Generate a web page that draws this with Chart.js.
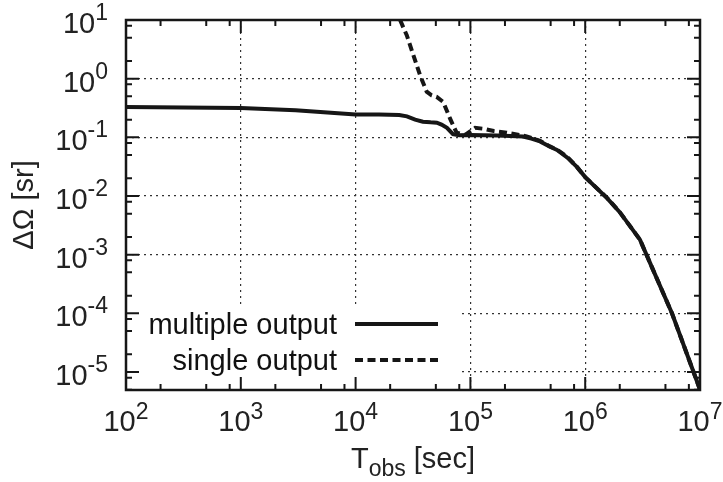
<!DOCTYPE html>
<html>
<head>
<meta charset="utf-8">
<script src="https://cdn.jsdelivr.net/npm/chart.js@4.4.1/dist/chart.umd.min.js"></script>
<style>
  html, body { margin: 0; padding: 0; background: #fff; }
  #wrap { width: 723px; height: 482px; position: relative; }
</style>
</head>
<body>
<div id="wrap"><canvas id="c" width="723" height="482"></canvas></div>
<script>
// ---- data ----
const multipleX = [100, 1000, 3000, 10000, 16000, 24000, 28000, 33000, 38600, 45000, 51000, 56000, 62500, 70500, 80000, 100000, 171000, 287000, 340000, 404000, 493000, 568000, 700000, 850000, 1000000, 1550000, 2000000, 3000000, 3800000, 5700000, 10000000];
const multipleY = [0.33, 0.315, 0.29, 0.245, 0.245, 0.24, 0.228, 0.2, 0.185, 0.18, 0.178, 0.165, 0.145, 0.113, 0.108, 0.11, 0.107, 0.103, 0.095, 0.085, 0.069, 0.061, 0.045, 0.031, 0.021, 0.0092, 0.0053, 0.0018, 0.00062, 0.0001, 0.000005];

const singleX = [24400, 27900, 31900, 36400, 41600, 46000, 50800, 58000, 66400, 75800, 90000, 110000, 130000, 160000, 207000, 309000, 404000, 493000, 568000, 700000, 850000, 1000000, 1550000, 2000000, 3000000, 3800000, 5700000, 10000000];
const singleY = [10, 5.5, 2.5, 1.15, 0.6, 0.52, 0.49, 0.4, 0.21, 0.12, 0.11, 0.145, 0.14, 0.128, 0.12, 0.104, 0.087, 0.07, 0.062, 0.046, 0.031, 0.021, 0.0093, 0.0053, 0.0018, 0.00062, 0.0001, 0.000005];

const seriesNames = ['multiple output', 'single output'];

const xTickValues = [1e2, 1e3, 1e4, 1e5, 1e6, 1e7];
const xTickExponents = ['2', '3', '4', '5', '6', '7'];
const yTickValues = [1e1, 1e0, 1e-1, 1e-2, 1e-3, 1e-4, 1e-5];
const yTickExponents = ['1', '0', '-1', '-2', '-3', '-4', '-5'];
const minorMultipliers = [2, 5, 8];

const xMin = 1e2, xMax = 1e7;
const yMin = 4.93e-6, yMax = 10;

const xTitleParts = ['T', 'obs', ' [sec]'];
const yTitle = 'ΔΩ [sr]';
// ------------------------------------------------

const FONT = "'Liberation Sans', Arial, Helvetica, sans-serif";
const INK = '#161616';

function toPoints(xs, ys) { return xs.map((x, i) => ({ x: x, y: ys[i] })); }

const decor = {
  id: 'decor',
  beforeDatasetsDraw(chart) {
    const ctx = chart.ctx, a = chart.chartArea;
    // opaque key box (hides grid underneath, as in the reference)
    ctx.save();
    ctx.fillStyle = '#fff';
    ctx.fillRect(a.left + 1, 304, 457 - a.left, a.bottom - 304);
    ctx.restore();
  },
  afterDraw(chart) {
    const ctx = chart.ctx, a = chart.chartArea;
    const xs = chart.scales.x, ys = chart.scales.y;
    ctx.save();
    // minor + major ticks, all four sides
    ctx.strokeStyle = INK;
    ctx.lineWidth = 2;
    ctx.beginPath();
    const majorLen = 13, minorLen = 6;
    for (let d = 1; d <= 7; d++) {
      for (const m of minorMultipliers) {
        const v = m * Math.pow(10, d);
        if (v <= xMin || v >= xMax) continue;
        const px = xs.getPixelForValue(v);
        ctx.moveTo(px, a.bottom); ctx.lineTo(px, a.bottom - minorLen);
        ctx.moveTo(px, a.top); ctx.lineTo(px, a.top + minorLen);
      }
    }
    for (const v of xTickValues) {
      const px = xs.getPixelForValue(v);
      ctx.moveTo(px, a.bottom); ctx.lineTo(px, a.bottom - majorLen);
      ctx.moveTo(px, a.top); ctx.lineTo(px, a.top + majorLen);
    }
    for (let d = -7; d <= 1; d++) {
      for (const m of minorMultipliers) {
        const v = m * Math.pow(10, d);
        if (v <= yMin || v >= yMax) continue;
        const py = ys.getPixelForValue(v);
        ctx.moveTo(a.left, py); ctx.lineTo(a.left + minorLen, py);
        ctx.moveTo(a.right, py); ctx.lineTo(a.right - minorLen, py);
      }
    }
    for (const v of yTickValues) {
      const py = ys.getPixelForValue(v);
      ctx.moveTo(a.left, py); ctx.lineTo(a.left + majorLen, py);
      ctx.moveTo(a.right, py); ctx.lineTo(a.right - majorLen, py);
    }
    ctx.stroke();

    // frame
    ctx.lineWidth = 2.5;
    ctx.strokeRect(a.left, a.top, a.right - a.left, a.bottom - a.top);

    // tick labels with superscripts
    ctx.fillStyle = '#222';
    ctx.textBaseline = 'alphabetic';
    ctx.textAlign = 'left';
    const mainFont = '29px ' + FONT, supFont = '23px ' + FONT;
    function measure(exp) {
      ctx.font = mainFont; const w1 = ctx.measureText('10').width;
      ctx.font = supFont; const w2 = ctx.measureText(exp).width;
      return [w1, w2];
    }
    xTickValues.forEach((v, i) => {
      const px = xs.getPixelForValue(v);
      const [w1, w2] = measure(xTickExponents[i]);
      const x0 = px - (w1 + w2) / 2;
      const base = a.bottom + 41;
      ctx.font = mainFont; ctx.fillText('10', x0, base);
      ctx.font = supFont; ctx.fillText(xTickExponents[i], x0 + w1, base - 12.5);
    });
    yTickValues.forEach((v, i) => {
      const py = ys.getPixelForValue(v);
      const [w1, w2] = measure(yTickExponents[i]);
      const x0 = 108 - (w1 + w2);
      const base = py + 13;
      ctx.font = mainFont; ctx.fillText('10', x0, base);
      ctx.font = supFont; ctx.fillText(yTickExponents[i], x0 + w1, base - 13);
    });

    // axis titles
    ctx.font = mainFont;
    ctx.save();
    ctx.translate(33, (a.top + a.bottom) / 2);
    ctx.rotate(-Math.PI / 2);
    ctx.textAlign = 'center';
    ctx.fillText(yTitle, 0, 0);
    ctx.restore();

    ctx.textAlign = 'left';
    ctx.font = mainFont; const wT = ctx.measureText(xTitleParts[0]).width;
    ctx.font = supFont; const wS = ctx.measureText(xTitleParts[1]).width;
    ctx.font = mainFont; const wR = ctx.measureText(xTitleParts[2]).width;
    let tx = (a.left + a.right) / 2 - (wT + wS + wR) / 2;
    const tb = 468;
    ctx.font = mainFont; ctx.fillText(xTitleParts[0], tx, tb); tx += wT;
    ctx.font = supFont; ctx.fillText(xTitleParts[1], tx, tb + 8); tx += wS;
    ctx.font = mainFont; ctx.fillText(xTitleParts[2], tx, tb);

    // key
    ctx.textAlign = 'right';
    ctx.font = mainFont;
    ctx.fillStyle = '#111';
    ctx.fillText(seriesNames[0], 337, 333.5);
    ctx.fillText(seriesNames[1], 337, 369.5);
    ctx.strokeStyle = INK;
    ctx.lineWidth = 4;
    ctx.beginPath(); ctx.moveTo(355, 324); ctx.lineTo(438, 324); ctx.stroke();
    ctx.setLineDash([8, 4.5]);
    ctx.beginPath(); ctx.moveTo(355, 360); ctx.lineTo(438, 360); ctx.stroke();
    ctx.restore();
  }
};

new Chart(document.getElementById('c'), {
  type: 'line',
  data: {
    datasets: [
      {
        label: seriesNames[0],
        data: toPoints(multipleX, multipleY),
        borderColor: INK,
        borderWidth: 4,
        pointRadius: 0,
        tension: 0,
        fill: false
      },
      {
        label: seriesNames[1],
        data: toPoints(singleX, singleY),
        borderColor: INK,
        borderWidth: 4,
        borderDash: [8, 4.5],
        pointRadius: 0,
        tension: 0,
        fill: false
      }
    ]
  },
  options: {
    responsive: false,
    animation: false,
    devicePixelRatio: 1,
    layout: { padding: { left: 126, right: 23, top: 20, bottom: 92 } },
    plugins: { legend: { display: false }, tooltip: { enabled: false }, title: { display: false } },
    scales: {
      x: {
        type: 'logarithmic',
        min: xMin, max: xMax,
        afterBuildTicks: (s) => { s.ticks = xTickValues.map(v => ({ value: v })); },
        afterFit: (s) => { s.height = 0; },
        ticks: { display: false },
        grid: { color: '#333', lineWidth: 1.2, drawTicks: false },
        border: { display: false, dash: [2, 4] },
        title: { display: false }
      },
      y: {
        type: 'logarithmic',
        min: yMin, max: yMax,
        afterBuildTicks: (s) => { s.ticks = yTickValues.map(v => ({ value: v })); },
        afterFit: (s) => { s.width = 0; },
        ticks: { display: false },
        grid: { color: '#333', lineWidth: 1.2, drawTicks: false },
        border: { display: false, dash: [2, 4] },
        title: { display: false }
      }
    }
  },
  plugins: [decor]
});
</script>
</body>
</html>
